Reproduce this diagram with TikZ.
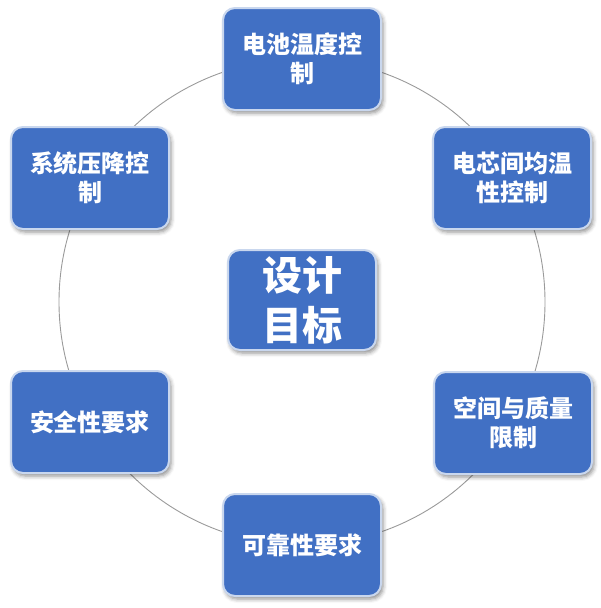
\documentclass[tikz,border=0pt]{standalone}
\usepackage{fontspec}
\newfontfamily\cjk{Noto Sans CJK SC}
\usetikzlibrary{shadows.blur}
\definecolor{boxblue}{HTML}{4170C4}
\definecolor{boxedge}{HTML}{C9D7EE}
\definecolor{ringgray}{HTML}{9A9A9A}
\begin{document}
\begin{tikzpicture}[x=1pt,y=-1pt,
  goal/.style={draw=boxedge, line width=2pt, fill=boxblue, rounded corners=12pt,
    minimum width=158pt, minimum height=102pt, align=center, text=white,
    font=\cjk\bfseries\fontsize{24}{29}\selectfont,
    blur shadow={shadow xshift=2pt, shadow yshift=-3pt, shadow blur radius=4pt, shadow opacity=45}},
  centerbox/.style={goal, minimum width=148pt, minimum height=100pt,
    font=\cjk\bfseries\fontsize{40}{50}\selectfont}]
\useasboundingbox (0,0) rectangle (601,608);
\coordinate (o) at (302,302);
\draw[ringgray, line width=0.9pt] (o) circle[radius=243pt];
\node[goal] (n1) at (302,59) {电池温度控\\制};
\node[goal] (n2) at (512,178) {电芯间均温\\性控制};
\node[goal] (n3) at (513,423) {空间与质量\\限制};
\node[goal] (n4) at (302,545) {可靠性要求};
\node[goal] (n5) at (90,422) {安全性要求};
\node[goal] (n6) at (90,178) {系统压降控\\制};
\node[centerbox] (c) at (302,300) {设计\\目标};
\end{tikzpicture}
\end{document}
